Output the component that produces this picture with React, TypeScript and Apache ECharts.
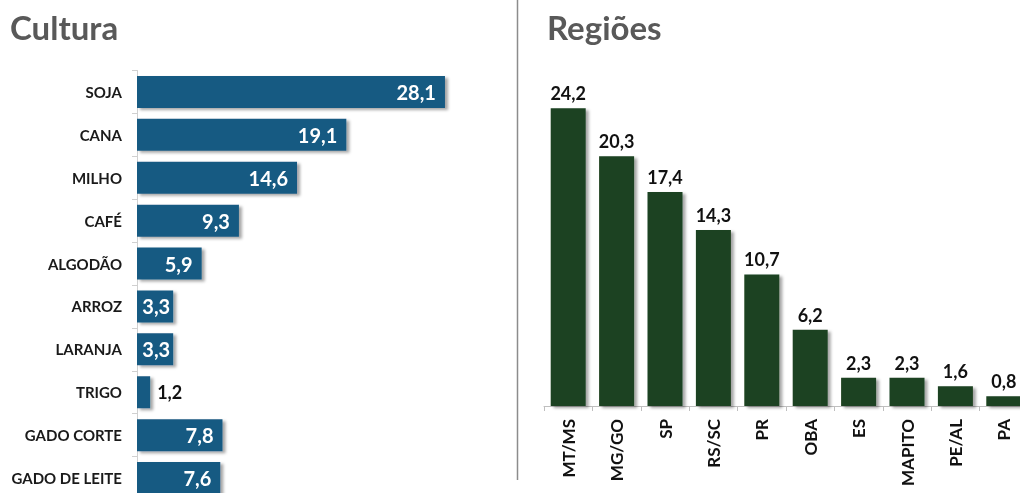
import React, { useEffect, useRef } from "react";
import * as echarts from "echarts";

const culturaCategories = ["SOJA", "CANA", "MILHO", "CAFÉ", "ALGODÃO", "ARROZ", "LARANJA", "TRIGO", "GADO CORTE", "GADO DE LEITE"];
const culturaValues = [28.1, 19.1, 14.6, 9.3, 5.9, 3.3, 3.3, 1.2, 7.8, 7.6];

const regioesCategories = ["MT/MS", "MG/GO", "SP", "RS/SC", "PR", "OBA", "ES", "MAPITO", "PE/AL", "PA"];
const regioesValues = [24.2, 20.3, 17.4, 14.3, 10.7, 6.2, 2.3, 2.3, 1.6, 0.8];

const FONT = "Lato, 'Open Sans', sans-serif";
const fmt = (v: number) => v.toFixed(1).replace(".", ",");

export default function App() {
  const ref = useRef<HTMLDivElement>(null);
  useEffect(() => {
    if (!ref.current) return;
    const chart = echarts.init(ref.current, null, { renderer: "svg" });
    const blue = "#185A82";
    const green = "#1C4220";
    const shadow = { shadowColor: "rgba(0,0,0,0.35)", shadowBlur: 3, shadowOffsetX: 3, shadowOffsetY: 2 };
    chart.setOption({
      animation: false,
      textStyle: { fontFamily: FONT },
      graphic: [
        { type: "text", left: 10, top: 10, style: { text: "Cultura", font: `bold 33px ${FONT}`, fill: "#595959" } },
        { type: "text", left: 547, top: 10, style: { text: "Regiões", font: `bold 33px ${FONT}`, fill: "#595959" } },
        { type: "line", shape: { x1: 517.5, y1: 0, x2: 517.5, y2: 480 }, style: { stroke: "#8c8c8c", lineWidth: 1.5 } },
      ],
      grid: [
        { left: 137, top: 70.5, width: 383.6, height: 429, containLabel: false, outerBoundsMode: "none" },
        { left: 544, top: 37, width: 484, height: 369, containLabel: false, outerBoundsMode: "none" },
      ],
      xAxis: [
        { gridIndex: 0, type: "value", min: 0, max: 35, show: false },
        {
          gridIndex: 1,
          type: "category",
          data: regioesCategories,
          axisLine: { lineStyle: { color: "#bfbfbf" } },
          axisTick: { show: true, length: 5, lineStyle: { color: "#bfbfbf" } },
          axisLabel: { rotate: 90, margin: 13, fontSize: 17, fontWeight: "bold", color: "#111", fontFamily: FONT },
        },
      ],
      yAxis: [
        {
          gridIndex: 0,
          type: "category",
          inverse: true,
          data: culturaCategories,
          axisLine: { lineStyle: { color: "#d0d0d0" } },
          axisTick: { show: true, length: 5, lineStyle: { color: "#d0d0d0" } },
          axisLabel: { margin: 15, fontSize: 15, fontWeight: "bold", color: "#1a1a1a", fontFamily: FONT },
        },
        { gridIndex: 1, type: "value", min: 0, max: 30, show: false },
      ],
      series: [
        {
          type: "bar",
          xAxisIndex: 0,
          yAxisIndex: 0,
          barWidth: 32,
          data: culturaValues.map((v) =>
            v < 2
              ? { value: v, label: { position: "right", color: "#111", fontSize: 18, distance: 7 } }
              : v < 4
              ? { value: v, label: { distance: 3 } }
              : v
          ),
          itemStyle: { color: blue, ...shadow },
          label: {
            show: true,
            position: "insideRight",
            distance: 9,
            color: "#fff",
            fontSize: 20,
            fontWeight: "bold",
            fontFamily: FONT,
            formatter: (p: any) => fmt(p.value),
          },
        },
        {
          type: "bar",
          xAxisIndex: 1,
          yAxisIndex: 1,
          barWidth: 35,
          data: regioesValues,
          itemStyle: { color: green, ...shadow },
          label: {
            show: true,
            position: "top",
            distance: 6,
            color: "#111",
            fontSize: 18,
            fontWeight: "bold",
            fontFamily: FONT,
            formatter: (p: any) => fmt(p.value),
          },
        },
      ],
    });
    return () => chart.dispose();
  }, []);
  return <div ref={ref} style={{ position: "fixed", left: 0, top: 0, width: 1020, height: 493 }} />;
}
